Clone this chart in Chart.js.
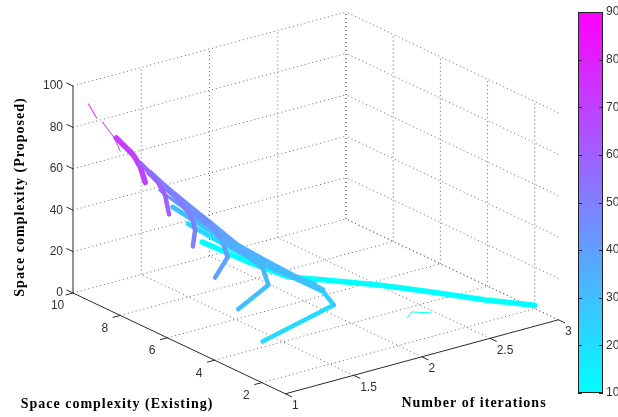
<!DOCTYPE html>
<html>
<head>
<meta charset="utf-8">
<style>
    html, body { margin: 0; padding: 0; background: #fff; }
    #wrap { position: relative; width: 618px; height: 417px; overflow: hidden; }
    canvas { position: absolute; top: 0; }
</style>
<script src="https://cdn.jsdelivr.net/npm/chart.js@4/dist/chart.umd.min.js"></script>
</head>
<body>
<div id="wrap">
    <canvas id="main" width="618" height="417" style="left:0"></canvas>
    <canvas id="bar" width="58" height="417" style="left:560px"></canvas>
</div>
<script>
// axis ticks
const iterTicks = [1, 1.5, 2, 2.5, 3];
const existingTicks = [2, 4, 6, 8, 10];
const proposedTicks = [0, 20, 40, 60, 80, 100];
const colorTicks = [10, 20, 30, 40, 50, 60, 70, 80, 90];

// every point is [iterations, existing, proposed], colour follows proposed
const branch1 = [[1.00, 6.94, 70], [1.13, 7.90, 70], [1.20, 8.54, 70], [1.23, 8.90, 70], [1.26, 9.67, 72]];
const branch2 = [[1.00, 5.93, 60], [1.17, 7.08, 60], [1.26, 7.89, 60], [1.36, 8.82, 58], [1.37, 9.30, 60]];
const branch3 = [[1.00, 4.92, 50], [1.17, 5.81, 50], [1.26, 6.43, 50], [1.35, 7.29, 50], [1.41, 8.41, 52]];
const branch4 = [[1.00, 3.98, 40], [1.26, 4.95, 40], [1.36, 5.77, 42], [1.43, 6.70, 44], [1.46, 7.84, 46]];
const branch5 = [[1.00, 3.00, 30], [1.38, 3.92, 30], [1.48, 4.74, 32], [1.48, 5.33, 34], [1.44, 6.24, 38]];
const branch6 = [[1.00, 1.97, 20], [1.65, 2.71, 22], [1.62, 3.04, 28], [1.58, 3.89, 30], [1.52, 4.42, 32], [1.53, 5.57, 32]];
const ridge = [[1.52, 9.76, 50], [1.49, 8.88, 48], [1.46, 7.84, 46], [1.47, 6.94, 42], [1.50, 5.98, 36],
    [1.52, 5.12, 34], [1.58, 3.89, 30], [1.62, 3.04, 28]];
const strandA = [[1.56, 9.57, 42], [1.48, 7.86, 42], [1.39, 5.85, 42]];
const strandB = [[1.70, 9.82, 30], [1.62, 7.15, 30], [1.59, 5.29, 30], [1.57, 3.73, 30]];
const strandC = [[1.77, 9.57, 22], [1.73, 7.62, 22], [1.72, 5.43, 22], [1.77, 4.21, 22]];
const strandD = [[1.90, 9.73, 10], [1.92, 7.87, 10], [1.96, 6.40, 10], [2.09, 5.73, 10], [2.30, 4.57, 10],
    [2.38, 4.04, 10], [2.50, 3.19, 10], [2.65, 2.07, 10], [2.83, 1.02, 10]];
const thinTop = [[1.10, 9.92, 90], [1.12, 9.69, 84]];
const thinLow = [[1.15, 9.63, 82], [1.21, 9.46, 74], [1.23, 9.33, 68]];
const thinCyan = [[2.11, 2.26, 10], [2.19, 2.53, 10], [2.27, 2.18, 10]];

// 3d view, same idea as matlab view()
function project(p) {
    return {
        x: 73 + (p[0] - 1) * 136.5 + (10 - p[1]) * 23.6,
        y: 293 - (p[0] - 1) * 37 + (10 - p[1]) * 11.2 - p[2] * 2.07,
        z: p[2]
    };
}

// matlab "cool" colormap between 10 and 90
function cool(z) {
    const t = Math.min(1, Math.max(0, (z - 10) / 80));
    return `rgb(${Math.round(255 * t)}, ${Math.round(255 * (1 - t))}, 255)`;
}

function curve(points, width) {
    return {
        data: points.map(project),
        showLine: true,
        pointRadius: 0,
        borderWidth: width,
        borderColor: cool(points[0][2]),
        borderCapStyle: 'round',
        borderJoinStyle: 'round',
        segment: { borderColor: c => cool((c.p0.raw.z + c.p1.raw.z) / 2) }
    };
}

function straight(a, b, dotted) {
    return {
        data: [project(a), project(b)],
        showLine: true,
        pointRadius: 0,
        borderWidth: 1,
        borderColor: dotted ? '#666' : '#2a2a2a',
        borderDash: dotted ? [1, 3] : []
    };
}

// first dataset ends up on top
const datasets = [
    curve(thinCyan, 1),
    curve(branch6, 4.5), curve(branch5, 4.5), curve(branch4, 4.5), curve(branch3, 4.5),
    curve(branch2, 4.5), curve(branch1, 5.5),
    curve(thinTop, 1), curve(thinLow, 1),
    curve(ridge, 6.5),
    curve(strandA, 3), curve(strandB, 5), curve(strandC, 5), curve(strandD, 5.5)
];

// axes
datasets.push(straight([1, 10, 0], [1, 10, 100], false));
datasets.push(straight([1, 10, 0], [1, 1, 0], false));
datasets.push(straight([1, 1, 0], [3, 1, 0], false));
proposedTicks.forEach(z => datasets.push(straight([1, 10, z], [1, 10.28, z], false)));
existingTicks.forEach(y => datasets.push(straight([1, y, 0], [0.945, y, 0], false)));
iterTicks.forEach(x => datasets.push(straight([x, 1, 0], [x, 0.72, 0], false)));

// grid on floor and the two back walls
iterTicks.slice(1).forEach(x => {
    datasets.push(straight([x, 1, 0], [x, 10, 0], true));
    datasets.push(straight([x, 10, 0], [x, 10, 100], true));
});
existingTicks.forEach(y => {
    datasets.push(straight([1, y, 0], [3, y, 0], true));
    datasets.push(straight([3, y, 0], [3, y, 100], true));
});
proposedTicks.forEach(z => {
    if (z > 0) datasets.push(straight([1, 10, z], [3, 10, z], true));
    datasets.push(straight([3, 1, z], [3, 10, z], true));
});

const axisText = {
    id: 'axisText',
    afterDraw(chart) {
        const ctx = chart.ctx;
        const sx = chart.scales.x, sy = chart.scales.y;
        const put = (p, dx, dy, text, align) => {
            const q = project(p);
            ctx.textAlign = align;
            ctx.fillText(text, sx.getPixelForValue(q.x) + dx, sy.getPixelForValue(q.y) + dy);
        };
        ctx.save();
        ctx.textBaseline = 'middle';
        ctx.fillStyle = '#333';
        ctx.font = '12px "Liberation Sans"';
        proposedTicks.forEach(z => put([1, 10, z], -10, 0, String(z), 'right'));
        existingTicks.forEach(y => put([1, y, 0], -15.4, 13, String(y), 'center'));
        iterTicks.forEach(x => put([x, 1, 0], 6.5, 12, String(x), 'left'));

        ctx.fillStyle = '#000';
        ctx.font = 'bold 14px "Liberation Serif"';
        ctx.letterSpacing = '1px';
        ctx.textAlign = 'center';
        ctx.fillText('Number of iterations', 474, 403);
        ctx.fillText('Space complexity (Existing)', 117, 404);
        ctx.translate(20, 197);
        ctx.rotate(-Math.PI / 2);
        ctx.fillText('Space complexity (Proposed)', 0, 0);
        ctx.restore();
    }
};

new Chart(document.getElementById('main'), {
    type: 'scatter',
    data: { datasets: datasets },
    options: {
        responsive: false,
        animation: false,
        layout: { padding: 0 },
        plugins: { legend: { display: false }, tooltip: { enabled: false } },
        scales: {
            x: { type: 'linear', min: 0, max: 618, display: false },
            y: { type: 'linear', min: 0, max: 417, reverse: true, display: false }
        }
    },
    plugins: [axisText]
});

// colorbar
const barTicks = {
    id: 'barTicks',
    afterDatasetsDraw(chart) {
        const ctx = chart.ctx, area = chart.chartArea, y = chart.scales.y;
        ctx.save();
        ctx.strokeStyle = '#222';
        ctx.lineWidth = 1;
        colorTicks.forEach(v => {
            const py = Math.round(y.getPixelForValue(v)) + 0.5;
            ctx.beginPath();
            ctx.moveTo(area.left, py);
            ctx.lineTo(area.left + 4, py);
            ctx.moveTo(area.right - 4, py);
            ctx.lineTo(area.right, py);
            ctx.stroke();
        });
        ctx.strokeRect(area.left + 0.5, area.top + 0.5, area.width - 1, area.height - 1);
        ctx.restore();
    }
};

new Chart(document.getElementById('bar'), {
    type: 'bar',
    data: {
        labels: [''],
        datasets: [{
            data: [[colorTicks[0], colorTicks[colorTicks.length - 1]]],
            barPercentage: 1,
            categoryPercentage: 1,
            backgroundColor: c => {
                const area = c.chart.chartArea;
                if (!area) return cool(50);
                const g = c.chart.ctx.createLinearGradient(0, area.bottom, 0, area.top);
                g.addColorStop(0, cool(10));
                g.addColorStop(1, cool(90));
                return g;
            }
        }]
    },
    options: {
        responsive: false,
        animation: false,
        layout: { padding: { left: 18, top: 12, bottom: 24, right: 0 } },
        plugins: { legend: { display: false }, tooltip: { enabled: false } },
        scales: {
            x: { display: false },
            y: {
                position: 'right',
                min: 10,
                max: 90,
                afterFit: s => { s.width = 15; },
                grid: { display: false, drawTicks: false, tickLength: 0 },
                border: { display: false },
                ticks: {
                    stepSize: 10,
                    padding: 3,
                    color: '#333',
                    font: { family: 'Liberation Sans', size: 12 }
                }
            }
        }
    },
    plugins: [barTicks]
});
</script>
</body>
</html>
